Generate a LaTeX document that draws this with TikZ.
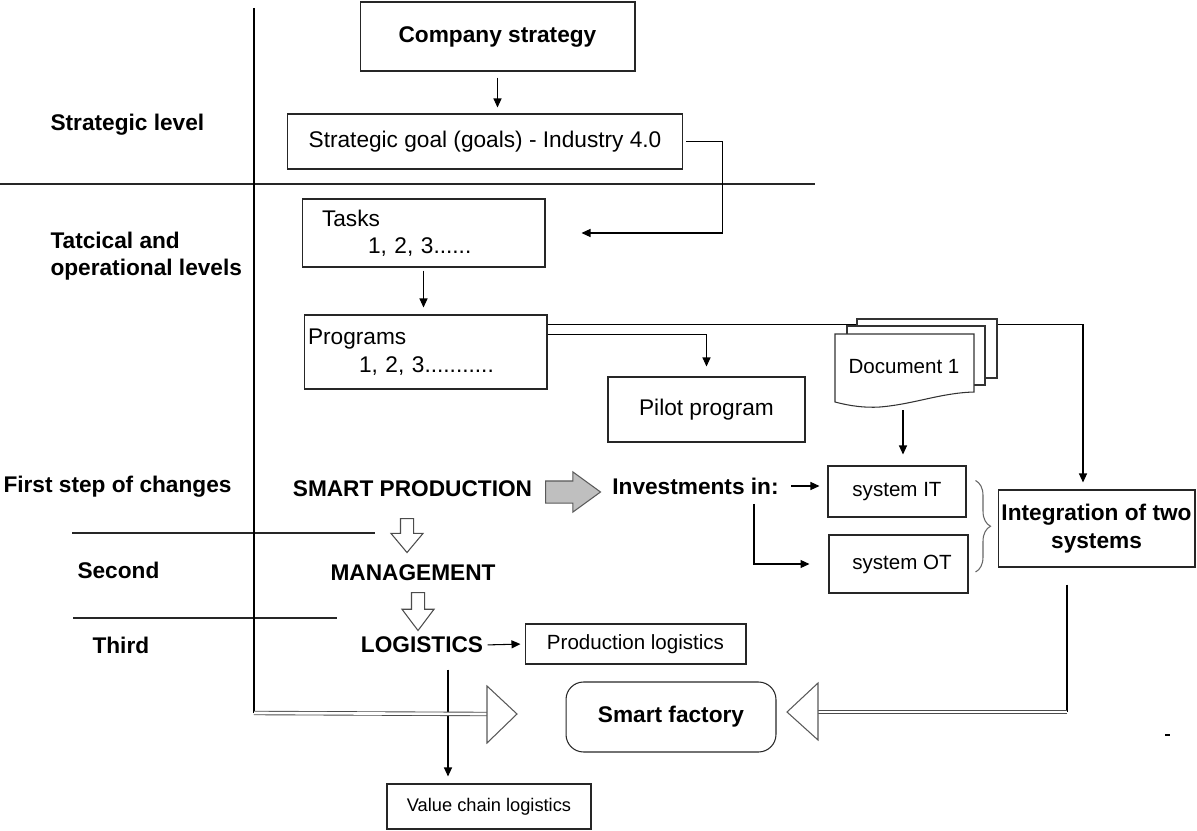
\documentclass[tikz,border=0pt]{standalone}
\usepackage{fontspec}
\setmainfont{Liberation Sans}
\usetikzlibrary{arrows.meta,shapes.arrows,decorations.pathreplacing}
\newcommand\mainsize{\fontsize{12.9}{15.6}\selectfont}
\newcommand\subsize{\fontsize{11.7}{14}\selectfont}

\tikzset{
  plainbox/.style={draw=black!85, inner sep=0pt, align=center},
  lvltxt/.style={font=\mainsize\bfseries, anchor=west, align=left, inner sep=0pt},
  keytxt/.style={font=\mainsize\bfseries, inner sep=0pt},
  sepline/.style={draw=black!85},
  arr/.style={-{Triangle[length=1.8mm,width=1.6mm]}},
  dbl/.style={draw=black!70, double=white, double distance=1.5pt, line width=0.5pt},
  docline/.style={draw=black!80, fill=white},
  hollowarrow/.style={single arrow, draw=black!70, fill=white, shape border rotate=270,
    inner sep=0.12cm, minimum width=0.62cm, single arrow head extend=0.19cm,
    single arrow tip angle=80},
  grayarrow/.style={single arrow, draw=black!65, fill=black!25,
    inner sep=0.21cm, minimum width=0.78cm, minimum height=1.1cm,
    single arrow head extend=0.18cm, single arrow tip angle=72}
}

\begin{document}
\begin{tikzpicture}[x=0.02cm, y=-0.02cm, line width=0.6pt,
    every node/.style={font=\mainsize}]
  \useasboundingbox (0,0) rectangle (1197,831);

  % levels
  \draw[sepline] (0,184) -- (815,184);
  \draw[sepline] (72,533) -- (375,533);
  \draw[sepline] (73,618) -- (337,618);
  \node[lvltxt] (lvlstrat) at (50,125) {Strategic level};
  \node[lvltxt] (lvltact) at (50,256) {Tatcical and\\operational levels};
  \node[lvltxt] (lvlfirst) at (3,487) {First step of changes};
  \node[lvltxt] (lvlsecond) at (77,570) {Second};
  \node[lvltxt] (lvlthird) at (92,645) {Third};

  % strategy and goals
  \node[plainbox, font=\mainsize\bfseries, minimum width=5.5cm, minimum height=1.38cm] (strat) at (497.5,36.5) {Company strategy};
  \node[plainbox, minimum width=7.92cm, minimum height=1.1cm] (goal) at (485,141.5) {Strategic goal (goals) - Industry 4.0};
  \node[plainbox, align=left, text width=4.06cm, inner xsep=0.4cm, minimum height=1.36cm] (tasks) at (423.5,233) {Tasks\\\hspace*{0.92cm}1, 2, 3......};
  \node[plainbox, align=left, text width=4.7cm, inner xsep=0.08cm, minimum height=1.48cm] (prog) at (425.5,352) {Programs\\\hspace*{1.02cm}1, 2, 3...........};
  \node[plainbox, minimum width=3.94cm, minimum height=1.3cm] (pilot) at (706.5,409.5) {Pilot program};

  \draw[arr, shorten <=0.12cm, shorten >=0.12cm] (strat.south) -- (strat.south |- goal.north);
  \draw[arr, shorten <=0.06cm] (goal.east) -- ++(39,0) |- ([xshift=0.72cm]tasks.east);
  \draw[arr, shorten <=0.06cm, shorten >=0.14cm] (tasks.south) -- (tasks.south |- prog.north);

  % changes
  \node[keytxt] (smart) at (412.5,489) {SMART PRODUCTION};
  \node[keytxt] (mgmt) at (413,573) {MANAGEMENT};
  \node[keytxt] (logi) at (422,645) {LOGISTICS};
  \node[keytxt] (invest) at (695.5,486) {Investments in:};
  \node[grayarrow, anchor=tail] (blkright) at (545,492) {};
  \node[hollowarrow, minimum height=0.68cm, anchor=tail] (blkdown1) at (407,518) {};
  \node[hollowarrow, minimum height=0.76cm, single arrow tip angle=74, anchor=tail] (blkdown2) at (418,592) {};

  \node[plainbox, font=\subsize, minimum width=2.76cm, minimum height=1.02cm] (sysit) at (897,491.5) {system IT};
  \node[plainbox, font=\subsize, minimum width=2.78cm, minimum height=1.16cm] (sysot) at (898.5,564) {\hspace*{0.14cm}system OT};
  \node[plainbox, font=\mainsize\bfseries, minimum width=3.94cm, minimum height=1.54cm] (integ) at (1096.5,528.5) {Integration of two\\systems};
  \node[plainbox, font=\subsize, minimum width=4.42cm, minimum height=0.8cm] (prodlog) at (635.5,644) {Production logistics};
  \node[plainbox, font=\fontsize{10.4}{12}\selectfont, minimum width=4.08cm, minimum height=0.9cm] (vcl) at (489,806.5) {Value chain logistics};
  \node[plainbox, font=\mainsize\bfseries, rounded corners=0.35cm, minimum width=4.2cm, minimum height=1.4cm] (factory) at (671,717) {Smart factory};

  % programs feed the pilot and the integration
  \draw[arr, shorten >=0.14cm] ([yshift=-0.2cm]prog.north east) -| ([xshift=-0.27cm]integ.north);
  \draw[arr, shorten >=0.2cm] ([yshift=-0.4cm]prog.north east) -| (pilot.north);

  % document stack
  \draw[docline] (857,319) rectangle (997,378);
  \draw[docline] (847,326) rectangle (985,385);
  \draw[docline] (835,334) -- (974,334) -- (974,392) .. controls (940,393) and (915,404) .. (880,407) .. controls (865,408) and (850,406) .. (835,402) -- cycle;
  \node[font=\subsize] (doc) at (904,367) {Document 1};
  \coordinate (docbot) at (903,410);
  \draw[arr, shorten >=0.22cm] (docbot) -- (docbot |- sysit.north);

  \draw[arr, shorten <=0.24cm, shorten >=0.16cm] (invest.east) -- (invest.east -| sysit.west);
  \draw[arr, shorten <=0.18cm, shorten >=0.38cm] ([xshift=1.17cm]invest.south) |- (sysot.west);
  \draw[black!60, decorate, decoration={brace, amplitude=0.3cm}] ([shift={(0.18cm,0.22cm)}]sysit.east) -- ([shift={(0.14cm,-0.16cm)}]sysot.east);

  \draw[arr, shorten <=0.08cm, shorten >=0.08cm] (logi.east) -- (prodlog.west);
  \coordinate (lx) at ([xshift=0.52cm]logi.south);
  \draw[arr, shorten <=0.32cm, shorten >=0.14cm] (lx) -- (lx |- vcl.north);

  % towards the smart factory
  \coordinate (ltop) at (254,8);
  \coordinate (lcorner) at (254,713);
  \coordinate (tri1) at (487,714);
  \draw (ltop) -- (lcorner);
  \draw[dbl] (lcorner) -- (tri1);
  \draw[black!65, fill=white] (tri1) ++(0,-28) -- ++(30,28) -- ++(-30,29) -- cycle;

  \coordinate (rs) at ([xshift=-0.59cm,yshift=-0.34cm]integ.south);
  \coordinate (tri2) at (818,712);
  \coordinate (rcorner) at (rs |- tri2);
  \draw (rs) -- (rcorner);
  \draw[dbl] (rcorner) -- (tri2);
  \draw[black!65, fill=white] (tri2) ++(0,-29) -- ++(-31,29) -- ++(31,28) -- cycle;

  \draw (1165,735) -- (1170,735);
\end{tikzpicture}
\end{document}
